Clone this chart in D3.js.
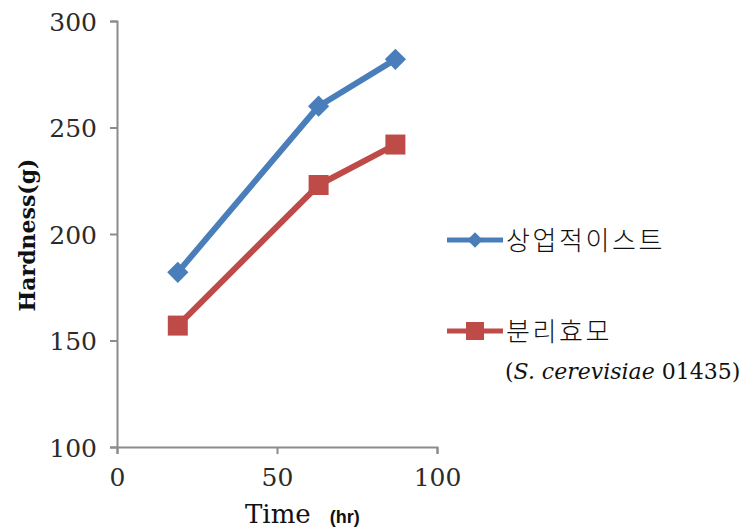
<!DOCTYPE html>
<html>
<head>
<meta charset="utf-8">
<script src="https://cdn.jsdelivr.net/npm/d3@7"></script>
<style>
  body { margin: 0; background: #fff; }
</style>
</head>
<body>
<div id="view"></div>
<script>
'use strict';

const hours = [19, 63, 87];
const commercialYeast = [182, 260, 282];
const isolatedYeast = [157, 223, 242];
const xTicks = [0, 50, 100];
const yTicks = [100, 150, 200, 250, 300];
const seriesNames = ['상업적이스트', '분리효모'];

const size = { w: 746, h: 531 };
const plot = { left: 117, top: 21, right: 437, bottom: 447 };

const presentation = {
  stroke_axis: '#8c8c8c',
  fill_tickText: '#2b2b2b',
  blue: '#4a7ebb',
  red: '#be4b48'
};

const svg = d3.select('#view').append('svg')
  .attr('width', size.w)
  .attr('height', size.h);

const x = d3.scaleLinear().domain([0, 100]).range([plot.left, plot.right]);
const y = d3.scaleLinear().domain([100, 300]).range([plot.bottom, plot.top]);

// axes
const gy = svg.append('g')
  .attr('transform', `translate(${plot.left},0)`)
  .call(d3.axisLeft(y).tickValues(yTicks).tickSize(7).tickPadding(13));

const gx = svg.append('g')
  .attr('transform', `translate(0,${plot.bottom})`)
  .call(d3.axisBottom(x).tickValues(xTicks).tickSize(7));

[gy, gx].forEach(g => {
  g.select('.domain').attr('stroke', presentation.stroke_axis).attr('stroke-width', 2);
  g.selectAll('.tick line').attr('stroke', presentation.stroke_axis).attr('stroke-width', 2);
  g.selectAll('.tick text')
    .attr('fill', presentation.fill_tickText)
    .style('font-family', '"DejaVu Serif", serif')
    .style('font-size', '25px');
});
gx.selectAll('.tick text').attr('y', 39).attr('dy', 0);
gy.selectAll('.tick text').attr('dy', '0.36em');

// axis titles
svg.append('text')
  .attr('transform', 'translate(35,235) rotate(-90)')
  .attr('text-anchor', 'middle')
  .style('font-family', '"DejaVu Serif", serif')
  .style('font-weight', 'bold')
  .style('font-size', '22px')
  .attr('fill', '#111')
  .text('Hardness(g)');

const timeTitle = svg.append('text')
  .attr('x', 245)
  .attr('y', 523)
  .attr('fill', '#111');
timeTitle.append('tspan')
  .style('font-family', '"DejaVu Serif", serif')
  .style('font-size', '26px')
  .text('Time');
timeTitle.append('tspan')
  .attr('dx', 19)
  .style('font-family', '"Liberation Sans", Arial, sans-serif')
  .style('font-weight', 'bold')
  .style('font-size', '18px')
  .text('(hr)');

// series
const series = [
  { name: seriesNames[0], values: commercialYeast, color: presentation.blue, marker: 'diamond' },
  { name: seriesNames[1], values: isolatedYeast, color: presentation.red, marker: 'square' }
];

const line = d3.line()
  .x(d => x(d[0]))
  .y(d => y(d[1]));

function drawMarker(g, type, cx, cy, s, color) {
  if (type === 'diamond') {
    g.append('rect')
      .attr('x', -s / 2).attr('y', -s / 2)
      .attr('width', s).attr('height', s)
      .attr('transform', `translate(${cx},${cy}) rotate(45)`)
      .attr('fill', color);
  } else {
    g.append('rect')
      .attr('x', cx - s / 2).attr('y', cy - s / 2)
      .attr('width', s).attr('height', s)
      .attr('fill', color);
  }
}

series.forEach(s => {
  const pts = hours.map((h, i) => [h, s.values[i]]);
  const g = svg.append('g');
  g.append('path')
    .attr('d', line(pts))
    .attr('fill', 'none')
    .attr('stroke', s.color)
    .attr('stroke-width', 6)
    .attr('stroke-linejoin', 'round');
  pts.forEach(p => {
    drawMarker(g, s.marker, x(p[0]), y(p[1]), s.marker === 'diamond' ? 15 : 20, s.color);
  });
});

// legend
const legendRows = [240, 331];
series.forEach((s, i) => {
  const g = svg.append('g');
  const ly = legendRows[i];
  g.append('line')
    .attr('x1', 447).attr('x2', 503)
    .attr('y1', ly).attr('y2', ly)
    .attr('stroke', s.color)
    .attr('stroke-width', 5);
  drawMarker(g, s.marker, 475, ly, s.marker === 'diamond' ? 11 : 18, s.color);
  g.append('text')
    .attr('x', 506)
    .attr('y', ly - 2)
    .attr('dominant-baseline', 'central')
    .attr('fill', '#111')
    .style('font-family', '"Noto Sans CJK KR", sans-serif')
    .style('font-weight', 300)
    .style('font-size', '26px')
    .style('letter-spacing', '2.6px')
    .text(s.name);
});

const species = svg.append('text')
  .attr('x', 505)
  .attr('y', 379)
  .attr('fill', '#111')
  .style('font-family', '"DejaVu Serif", serif')
  .style('font-size', '22px');
species.append('tspan').text('(');
species.append('tspan').style('font-style', 'italic').text('S. cerevisiae');
species.append('tspan').text(' 01435)');
</script>
</body>
</html>
